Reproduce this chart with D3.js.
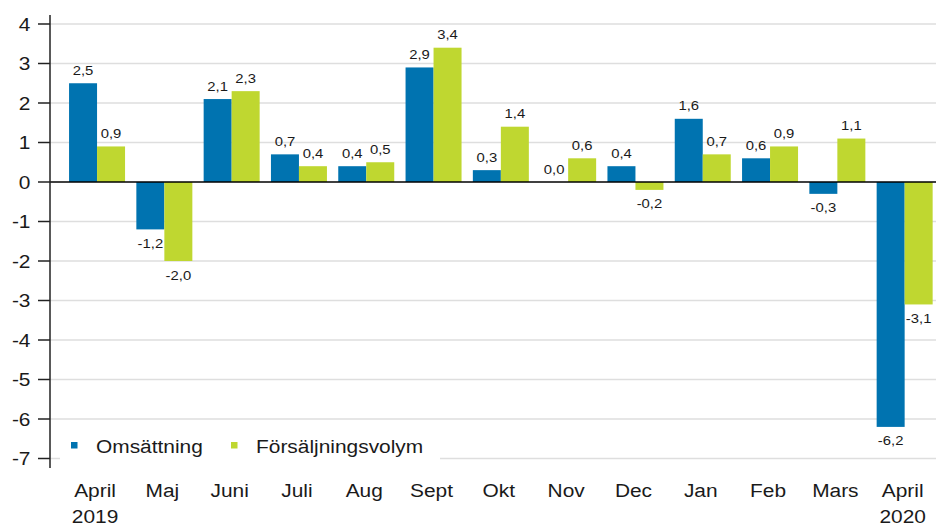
<!DOCTYPE html>
<html>
<head>
<meta charset="utf-8">
<script src="https://cdn.jsdelivr.net/npm/d3@7"></script>
<style>
  body { margin: 0; background: #fff; }
  text { font-family: "Liberation Sans", Arial, sans-serif; }
</style>
</head>
<body>
<div id="chart"></div>
<script>
// months on the x axis (second line holds the year)
const months = ["April", "Maj", "Juni", "Juli", "Aug", "Sept", "Okt", "Nov", "Dec", "Jan", "Feb", "Mars", "April"]
const years = ["2019", "", "", "", "", "", "", "", "", "", "", "", "2020"]
const seriesNames = ["Omsättning", "Försäljningsvolym"]
const omsattning = [2.5, -1.2, 2.1, 0.7, 0.4, 2.9, 0.3, 0.0, 0.4, 1.6, 0.6, -0.3, -6.2]
const volym = [0.9, -2.0, 2.3, 0.4, 0.5, 3.4, 1.4, 0.6, -0.2, 0.7, 0.9, 1.1, -3.1]
const yTicks = [4, 3, 2, 1, 0, -1, -2, -3, -4, -5, -6, -7]

const colors = ["#0073b0", "#bfd730"]
const W = 936, H = 527
const SX = 1.1 // text in the picture is a bit wider than plain Arial

const svg = d3.select("#chart").append("svg")
  .attr("width", W)
  .attr("height", H)

const y = d3.scaleLinear().domain([-7, 4]).range([458.5, 24])
const x = d3.scaleBand().domain(d3.range(months.length)).range([63.4, 938.3])
  .paddingInner(0.168).paddingOuter(0.084)
const xs = d3.scaleBand().domain([0, 1]).range([0, x.bandwidth()])

// place a text with a slight horizontal stretch
function put(sel, fx, fy) {
  return sel.attr("transform", function(d, i) {
    return "translate(" + fx(d, i) + "," + fy(d, i) + ") scale(" + SX + ",1)"
  })
}

// gridlines
svg.append("g")
  .selectAll("line")
  .data(yTicks.filter(d => d !== 0))
  .enter()
  .append("line")
    .attr("x1", 50).attr("x2", W)
    .attr("y1", d => y(d)).attr("y2", d => y(d))
    .attr("stroke", "#dedede")
    .attr("stroke-width", 1.5)

// bars
const data = months.map((m, i) => [omsattning[i], volym[i]])
const groups = svg.append("g")
  .selectAll("g")
  .data(data)
  .enter()
  .append("g")
    .attr("transform", (d, i) => "translate(" + x(i) + ",0)")

groups.selectAll("rect")
  .data(d => d)
  .enter()
  .append("rect")
    .attr("x", (d, j) => xs(j))
    .attr("width", xs.bandwidth())
    .attr("y", d => y(Math.max(0, d)))
    .attr("height", d => Math.abs(y(d) - y(0)))
    .attr("fill", (d, j) => colors[j])

const fmt = v => d3.format(".1f")(v).replace(".", ",").replace("−", "-")
put(groups.selectAll("text")
  .data(d => d)
  .enter()
  .append("text"),
    (d, j) => xs(j) + xs.bandwidth() / 2,
    d => d >= 0 ? y(d) - 8.5 : y(d) + 18.5)
    .attr("text-anchor", "middle")
    .attr("font-size", 13.5)
    .attr("fill", "#1a1a1a")
    .text(d => fmt(d))

// zero line
svg.append("line")
  .attr("x1", 50).attr("x2", W)
  .attr("y1", y(0)).attr("y2", y(0))
  .attr("stroke", "#000")
  .attr("stroke-width", 1.3)

// y axis
const yAxis = svg.append("g")
yAxis.append("line")
  .attr("x1", 50).attr("x2", 50)
  .attr("y1", 15).attr("y2", 468)
  .attr("stroke", "#222").attr("stroke-width", 1.5)
yAxis.selectAll(".tick")
  .data(yTicks)
  .enter()
  .append("line")
    .attr("x1", 38).attr("x2", 50)
    .attr("y1", d => y(d)).attr("y2", d => y(d))
    .attr("stroke", "#222").attr("stroke-width", 1.5)
put(yAxis.selectAll("text")
  .data(yTicks)
  .enter()
  .append("text"),
    () => 30.5,
    d => y(d) + 6.8)
    .attr("text-anchor", "end")
    .attr("font-size", 19)
    .attr("fill", "#1a1a1a")
    .text(d => d < 0 ? "-" + Math.abs(d) : d)

// x labels
const xl = svg.append("g")
  .selectAll("g")
  .data(months)
  .enter()
  .append("g")
    .attr("transform", (d, i) => "translate(" + (x(i) + x.bandwidth() / 2 - 2) + ",497) scale(" + SX + ",1)")
xl.append("text")
  .attr("text-anchor", "middle")
  .attr("font-size", 19)
  .attr("fill", "#1a1a1a")
  .text(d => d)
xl.append("text")
  .attr("y", 26)
  .attr("text-anchor", "middle")
  .attr("font-size", 19)
  .attr("fill", "#1a1a1a")
  .text((d, i) => years[i])

// legend
const legend = svg.append("g")
legend.append("rect")
  .attr("x", 60).attr("y", 432).attr("width", 380).attr("height", 30)
  .attr("fill", "#fff")
const legendX = [71, 231]
seriesNames.forEach((name, i) => {
  legend.append("rect")
    .attr("x", legendX[i]).attr("y", 442)
    .attr("width", 6.5).attr("height", 6.5)
    .attr("fill", colors[i])
  legend.append("text")
    .attr("transform", "translate(" + (legendX[i] + 25) + ",453) scale(" + SX + ",1)")
    .attr("font-size", 19)
    .attr("fill", "#1a1a1a")
    .text(name)
})
</script>
</body>
</html>
